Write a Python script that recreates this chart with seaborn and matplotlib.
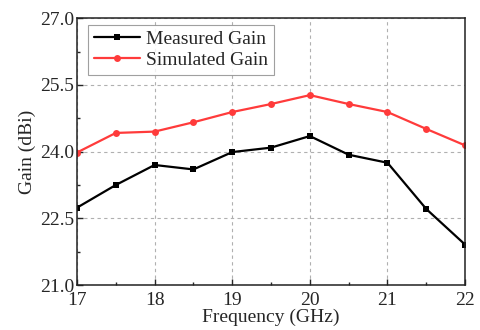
import matplotlib
matplotlib.use("Agg")
import matplotlib.pyplot as plt
from matplotlib.ticker import MultipleLocator
import seaborn as sns
import pandas as pd

freq = [17, 17.5, 18, 18.5, 19, 19.5, 20, 20.5, 21, 21.5, 22]
measured_gain = [22.74, 23.25, 23.70, 23.60, 23.99, 24.09, 24.35, 23.93, 23.75, 22.71, 21.91]
simulated_gain = [23.98, 24.42, 24.45, 24.66, 24.89, 25.07, 25.27, 25.07, 24.89, 24.51, 24.14]
x_ticks = [17, 18, 19, 20, 21, 22]
y_ticks = [21.0, 22.5, 24.0, 25.5, 27.0]

sns.set_theme(style="ticks")
plt.rcParams["font.family"] = ["Liberation Serif", "DejaVu Serif"]

df = pd.concat([
    pd.DataFrame({"Frequency": freq, "Gain": measured_gain, "Series": "Measured Gain"}),
    pd.DataFrame({"Frequency": freq, "Gain": simulated_gain, "Series": "Simulated Gain"}),
])

fig = plt.figure(figsize=(4.81, 3.30), dpi=100)
ax = fig.add_axes([0.160, 0.136, 0.807, 0.809])

sns.lineplot(data=df, x="Frequency", y="Gain", hue="Series", style="Series",
             palette={"Measured Gain": "black", "Simulated Gain": "#ff3b3b"},
             markers={"Measured Gain": "s", "Simulated Gain": "o"},
             dashes=False, markersize=5, markeredgewidth=0, linewidth=1.6, ax=ax)

ax.set_xlim(17, 22)
ax.set_ylim(21.0, 27.0)
ax.set_xticks(x_ticks)
ax.set_xticklabels([str(t) for t in x_ticks])
ax.set_yticks(y_ticks)
ax.set_yticklabels([f"{t:.1f}" for t in y_ticks])
ax.yaxis.set_minor_locator(MultipleLocator(0.75))
ax.xaxis.set_minor_locator(MultipleLocator(0.5))
ax.tick_params(which="both", direction="in", top=False, right=False, labelsize=14)
ax.tick_params(axis="x", pad=5)
ax.tick_params(axis="y", pad=2)
ax.tick_params(which="major", length=4, width=1)
ax.tick_params(which="minor", length=2.5, width=1)
ax.grid(True, which="major", linestyle=(0, (3, 3)), color="#b0b0b0", linewidth=0.8)
for s in ax.spines.values():
    s.set_visible(True)
    s.set_color("#222222")
    s.set_linewidth(1.1)

ax.set_xlabel("Frequency (GHz)", fontsize=14, labelpad=0)
ax.set_ylabel("Gain (dBi)", fontsize=14, labelpad=3)

leg = ax.legend(loc="upper left", fontsize=14, frameon=True, fancybox=False,
                edgecolor="#888888", handlelength=2.4, handletextpad=0.3,
                borderpad=0.3, labelspacing=0.15, borderaxespad=0,
                bbox_to_anchor=(0.028, 0.975))
leg.get_frame().set_linewidth(0.8)

fig.savefig("out.png", dpi=100)
